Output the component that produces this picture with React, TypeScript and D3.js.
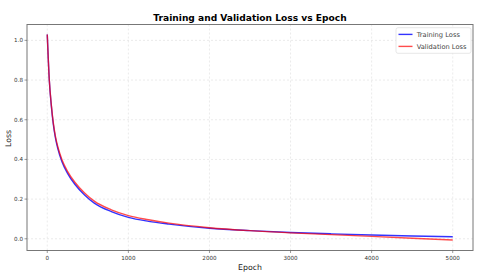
import React from "react";
import * as d3 from "d3";

// epochs sampled along the curves
const epochs = [0, 25, 50, 75, 100, 130, 180, 250, 340, 460, 580, 790, 1000, 1250, 1500, 2000, 2500, 3000, 3500, 4000, 4500, 5000];
const trainLoss = [1.03, 0.8, 0.67, 0.575, 0.51, 0.455, 0.39, 0.33, 0.275, 0.221, 0.18, 0.137, 0.108, 0.088, 0.074, 0.053, 0.041, 0.032, 0.025, 0.019, 0.014, 0.01];
const valLoss = [1.03, 0.8, 0.675, 0.583, 0.518, 0.464, 0.4, 0.34, 0.285, 0.231, 0.19, 0.146, 0.117, 0.096, 0.079, 0.056, 0.041, 0.03, 0.021, 0.012, 0.003, -0.006];
const xTicks = [0, 1000, 2000, 3000, 4000, 5000];
const yTicks = [0.0, 0.2, 0.4, 0.6, 0.8, 1.0];

const W = 480;
const H = 277;
const margin = { top: 24.5, right: 7, bottom: 26.5, left: 27 };

const FONT = "DejaVu Sans, sans-serif";

export default function App() {
  const x = d3.scaleLinear().domain([-250, 5250]).range([margin.left, W - margin.right]);
  const y = d3.scaleLinear().domain([-0.059, 1.08]).range([H - margin.bottom, margin.top]);

  const line = d3
    .line<number>()
    .x((_, i) => x(epochs[i]))
    .y((d) => y(d))
    .curve(d3.curveMonotoneX);

  const series = [
    { name: "Training Loss", values: trainLoss, color: "rgba(0,0,255,0.8)" },
    { name: "Validation Loss", values: valLoss, color: "rgba(255,0,0,0.7)" },
  ];

  const left = margin.left;
  const right = W - margin.right;
  const top = margin.top;
  const bottom = H - margin.bottom;

  return (
    <svg width={W} height={H} style={{ position: "absolute", left: 0, top: 0, background: "#fff" }} fontFamily={FONT}>
      {/* grid */}
      {xTicks.map((t) => (
        <line key={"gx" + t} x1={x(t)} x2={x(t)} y1={top} y2={bottom} stroke="#ddd" strokeWidth={0.6} strokeDasharray="2,2" />
      ))}
      {yTicks.map((t) => (
        <line key={"gy" + t} x1={left} x2={right} y1={y(t)} y2={y(t)} stroke="#ddd" strokeWidth={0.6} strokeDasharray="2,2" />
      ))}

      {series.map((s) => (
        <path key={s.name} d={line(s.values) || ""} fill="none" stroke={s.color} strokeWidth={1.4} />
      ))}

      {/* frame */}
      <rect x={left} y={top} width={right - left} height={bottom - top} fill="none" stroke="#777" strokeWidth={1} />

      {/* ticks */}
      {xTicks.map((t) => (
        <g key={"tx" + t}>
          <line x1={x(t)} x2={x(t)} y1={bottom} y2={bottom + 2.5} stroke="#555" strokeWidth={0.6} />
          <text x={x(t)} y={bottom + 9} fontSize={5.6} fill="#333" textAnchor="middle">
            {t}
          </text>
        </g>
      ))}
      {yTicks.map((t) => (
        <g key={"ty" + t}>
          <line x1={left - 2.5} x2={left} y1={y(t)} y2={y(t)} stroke="#555" strokeWidth={0.6} />
          <text x={left - 4} y={y(t) + 2} fontSize={5.6} fill="#333" textAnchor="end">
            {t.toFixed(1)}
          </text>
        </g>
      ))}

      {/* labels */}
      <text x={(left + right) / 2} y={20.7} fontSize={9.1} fontWeight="bold" textAnchor="middle" fill="#000">
        Training and Validation Loss vs Epoch
      </text>
      <text x={(left + right) / 2} y={270} fontSize={7.8} textAnchor="middle" fill="#222">
        Epoch
      </text>
      <text transform={`translate(10.5,${(top + bottom) / 2 + 1}) rotate(-90)`} fontSize={7.8} textAnchor="middle" fill="#222">
        Loss
      </text>

      {/* legend */}
      <rect x={396} y={27.7} width={75} height={25.6} rx={2} fill="#fff" fillOpacity={0.85} stroke="#ddd" strokeWidth={0.7} />
      {series.map((s, i) => (
        <g key={"lg" + s.name}>
          <line x1={398.5} x2={412.5} y1={34.4 + i * 12} y2={34.4 + i * 12} stroke={s.color} strokeWidth={1.4} />
          <text x={416.7} y={36.8 + i * 12} fontSize={6.7} fill="#444">
            {s.name}
          </text>
        </g>
      ))}
    </svg>
  );
}
